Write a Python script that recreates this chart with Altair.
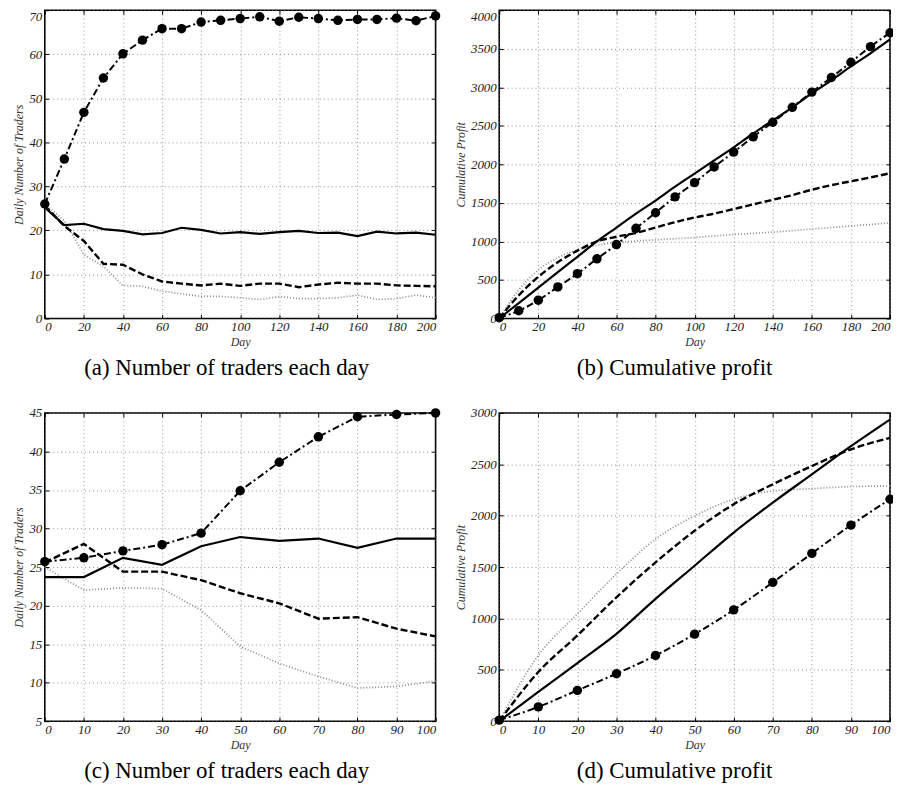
import altair as alt
import pandas as pd

FONT = "Liberation Serif"

# ---------------- data ----------------
days_200 = list(range(0, 201, 10))
days_100 = list(range(0, 101, 10))

# (a) Daily number of traders, 200 days
a_dashdot = [26, 36.2, 46.8, 54.6, 60.1, 63.2, 65.8, 65.8, 67.3, 67.7, 68.1,
             68.5, 67.5, 68.4, 68.1, 67.7, 67.9, 67.9, 68.2, 67.6, 68.7]
a_solid = [25.2, 21.2, 21.5, 20.3, 19.9, 19.1, 19.4, 20.6, 20.1, 19.3, 19.6,
           19.2, 19.6, 19.9, 19.4, 19.5, 18.7, 19.7, 19.3, 19.5, 19.0]
a_dashed = [25.6, 21.0, 17.6, 12.4, 12.2, 10.0, 8.4, 7.9, 7.5, 7.9, 7.4,
            7.9, 7.9, 7.1, 7.7, 8.1, 7.9, 7.9, 7.5, 7.4, 7.3]
a_dotted = [26, 22.2, 14.5, 11.8, 7.5, 7.3, 6.2, 5.6, 5.0, 5.0, 4.7,
            4.3, 5.0, 4.5, 4.5, 4.7, 5.3, 4.3, 4.5, 5.3, 4.7]

# (b) Cumulative profit, 200 days
b_dashdot = [10, 100, 237, 409, 581, 774, 959, 1170, 1372, 1578, 1763,
             1966, 2159, 2357, 2546, 2740, 2937, 3127, 3325, 3527, 3707]
b_solid = [0, 200, 400, 600, 800, 1000, 1180, 1360, 1530, 1710, 1880,
           2050, 2220, 2400, 2570, 2740, 2920, 3090, 3270, 3440, 3620]
b_dashed = [0, 300, 540, 730, 880, 1000, 1060, 1110, 1180, 1250, 1310,
            1360, 1420, 1480, 1540, 1600, 1670, 1730, 1780, 1830, 1885]
b_dotted = [0, 370, 630, 790, 890, 950, 985, 1005, 1020, 1035, 1050,
            1070, 1090, 1105, 1120, 1140, 1160, 1180, 1200, 1220, 1240]

# (c) Daily number of traders, 100 days
c_dashdot = [25.7, 26.2, 27.1, 27.9, 29.4, 34.9, 38.6, 41.9, 44.5, 44.8, 45.0]
c_solid = [23.7, 23.7, 26.2, 25.3, 27.7, 28.9, 28.4, 28.7, 27.5, 28.7, 28.7]
c_dashed = [25.6, 28.0, 24.4, 24.4, 23.3, 21.6, 20.3, 18.3, 18.5, 17.0, 16.0]
c_dotted = [25.0, 22.0, 22.3, 22.2, 19.4, 14.7, 12.5, 10.8, 9.3, 9.5, 10.2]

# (d) Cumulative profit, 100 days
d_dashdot = [10, 139, 300, 462, 640, 847, 1083, 1351, 1633, 1908, 2160]
d_solid = [0, 285, 566, 850, 1190, 1513, 1836, 2127, 2402, 2677, 2936]
d_dashed = [0, 478, 834, 1206, 1545, 1853, 2111, 2305, 2483, 2645, 2758]
d_dotted = [0, 640, 1044, 1432, 1772, 1998, 2160, 2240, 2263, 2283, 2289]

SERIES = ["dotted", "dashed", "solid", "dashdot"]
STYLE = {
    "dotted": dict(color="#8a8a8a", strokeWidth=1.7, strokeDash=[1, 2]),
    "dashed": dict(color="black", strokeWidth=2.4, strokeDash=[7, 3]),
    "solid": dict(color="black", strokeWidth=2.2),
    "dashdot": dict(color="black", strokeWidth=2.0, strokeDash=[7, 3, 2, 3]),
}


def long_df(days, series):
    rows = []
    for name, vals in series.items():
        for d, v in zip(days, vals):
            rows.append({"day": d, "value": v, "series": name})
    return pd.DataFrame(rows)


def panel(days, series, xmax, xstep, ymin, ymax, ystep, ytitle, caption,
          smooth, top_row):
    df = long_df(days, series)
    xs = alt.Scale(domain=[0, xmax], nice=False, zero=False)
    ys = alt.Scale(domain=[ymin, ymax], nice=False, zero=False)
    xt = list(range(0, xmax + 1, xstep))
    yt = list(range(ymin, ymax + 1, ystep))
    common = dict(
        labelFont=FONT, labelFontStyle="italic", labelFontSize=13,
        labelColor="#222222", titleFont=FONT, titleFontStyle="italic",
        titleFontSize=12, titleFontWeight="normal", titleColor="#333333",
        grid=True, gridColor="#777777", gridDash=[1, 3], gridWidth=0.8,
        ticks=False, domain=False, format="d",
    )
    xaxis = alt.Axis(orient="bottom", values=xt, title="Day", labelPadding=2,
                     titlePadding=3, labelAngle=0, **common)
    if top_row:
        ylb = {"expr": f"datum.value == {ymax} ? 'top' : 'middle'"}
    else:
        ylb = "middle"
    yaxis = alt.Axis(orient="left", values=yt, title=ytitle, labelPadding=3,
                     titlePadding=3, labelBaseline=ylb, **common)

    interp = "monotone" if smooth else "linear"
    layers = []
    first = True
    for name in SERIES:
        st = STYLE[name]
        kw = dict(color=st["color"], strokeWidth=st["strokeWidth"],
                  interpolate=interp)
        if "strokeDash" in st:
            kw["strokeDash"] = st["strokeDash"]
        layers.append(
            alt.Chart(df).transform_filter(alt.datum.series == name)
            .mark_line(**kw)
            .encode(
                x=alt.X("day:Q", scale=xs, axis=xaxis if first else None),
                y=alt.Y("value:Q", scale=ys, axis=yaxis if first else None),
            )
        )
        first = False

    pts = (
        alt.Chart(df).transform_filter(alt.datum.series == "dashdot")
        .mark_circle(size=90, color="black", opacity=1)
        .encode(x=alt.X("day:Q", scale=xs, axis=None),
                y=alt.Y("value:Q", scale=ys, axis=None))
    )

    tick_kw = dict(labels=False, domain=False, grid=False, ticks=True,
                   tickSize=4, tickColor="black", tickWidth=1, title=None)
    t1 = alt.Chart(df).mark_point(opacity=0).encode(
        x=alt.X("day:Q", scale=xs,
                axis=alt.Axis(orient="bottom", offset=-4, values=xt, **tick_kw)),
        y=alt.Y("value:Q", scale=ys,
                axis=alt.Axis(orient="left", offset=-4, values=yt, **tick_kw)),
    )
    t2 = alt.Chart(df).mark_point(opacity=0).encode(
        x=alt.X("day:Q", scale=xs,
                axis=alt.Axis(orient="top", offset=-4, values=xt, **tick_kw)),
        y=alt.Y("value:Q", scale=ys,
                axis=alt.Axis(orient="right", offset=-4, values=yt, **tick_kw)),
    )

    return (
        alt.layer(*layers, pts, t1, t2)
        .resolve_axis(x="independent", y="independent")
        .properties(
            width=393, height=310,
            title=alt.TitleParams(
                caption, orient="bottom", anchor="middle", frame="bounds",
                font=FONT, fontSize=23, fontWeight="normal", color="black",
                offset=10,
            ),
        )
    )


pa = panel(days_200, {"dotted": a_dotted, "dashed": a_dashed, "solid": a_solid,
                      "dashdot": a_dashdot},
           200, 20, 0, 70, 10, "Daily Number of Traders",
           "(a)  Number of traders each day", False, True)
pb = panel(days_200, {"dotted": b_dotted, "dashed": b_dashed, "solid": b_solid,
                      "dashdot": b_dashdot},
           200, 20, 0, 4000, 500, "Cumulative Profit",
           "(b)  Cumulative profit", True, True)
pc = panel(days_100, {"dotted": c_dotted, "dashed": c_dashed, "solid": c_solid,
                      "dashdot": c_dashdot},
           100, 10, 5, 45, 5, "Daily Number of Traders",
           "(c)  Number of traders each day", False, False)
pd_ = panel(days_100, {"dotted": d_dotted, "dashed": d_dashed, "solid": d_solid,
                       "dashdot": d_dashdot},
            100, 10, 0, 3000, 500, "Cumulative Profit",
            "(d)  Cumulative profit", True, False)

chart = (
    alt.concat(pa, pb, pc, pd_, columns=2,
               spacing={"row": 95, "column": 64}, bounds="flush")
    .properties(padding={"left": 4, "top": -2, "right": -3, "bottom": 5},
                background="white")
    .configure_view(stroke="black", strokeWidth=1.6)
)

chart.save("out.html", embed_options={"renderer": "svg", "actions": False})
